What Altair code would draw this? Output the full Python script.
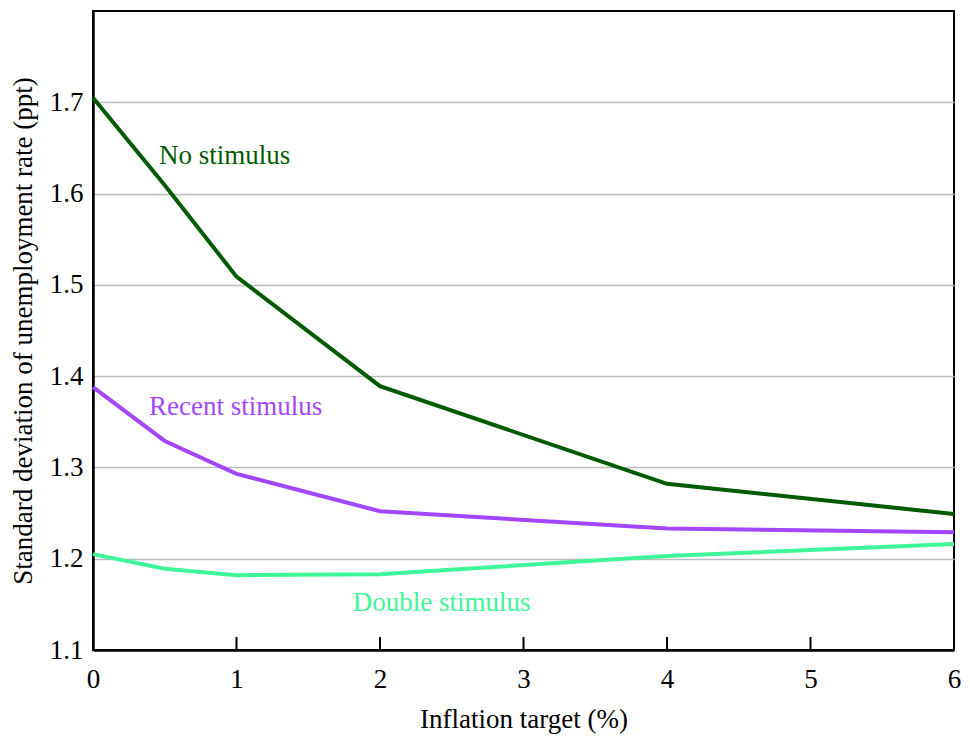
import altair as alt
import pandas as pd

targets = [0, 0.5, 1, 2, 4, 6]
no_stimulus = [1.705, 1.609, 1.509, 1.389, 1.282, 1.249]
recent_stimulus = [1.388, 1.329, 1.293, 1.252, 1.233, 1.229]
double_stimulus = [1.205, 1.189, 1.182, 1.183, 1.203, 1.216]

series_names = ["No stimulus", "Recent stimulus", "Double stimulus"]
series_colors = ["#005a00", "#a347ff", "#3ff59a"]

label_x = [0.46, 0.39, 1.81]
label_y = [1.641, 1.366, 1.152]

x_ticks = [0, 1, 2, 3, 4, 5, 6]
y_ticks = [1.1, 1.2, 1.3, 1.4, 1.5, 1.6, 1.7]

rows = []
for name, vals in zip(series_names, [no_stimulus, recent_stimulus, double_stimulus]):
    for t, v in zip(targets, vals):
        rows.append({"series": name, "target": t, "value": v})
df = pd.DataFrame(rows)
labels_df = pd.DataFrame({"series": series_names, "x": label_x, "y": label_y})
ticks_df = pd.DataFrame({"t": x_ticks})

W, H = 861, 639
FONT = "Liberation Serif, DejaVu Serif, Noto Serif, serif"

color_scale = alt.Scale(domain=series_names, range=series_colors)
x_scale = alt.Scale(domain=[0, 6], nice=False, zero=False)
y_scale = alt.Scale(domain=[1.1, 1.8], nice=False, zero=False)

lines = alt.Chart(df).mark_line(strokeWidth=4).encode(
    x=alt.X("target:Q", scale=x_scale,
            axis=alt.Axis(title="Inflation target (%)", values=x_ticks, grid=False,
                          tickSize=0, labelPadding=16, titlePadding=14, format="d")),
    y=alt.Y("value:Q", scale=y_scale,
            axis=alt.Axis(title="Standard deviation of unemployment rate (ppt)",
                          values=y_ticks, grid=True, tickSize=0, labelPadding=10,
                          titlePadding=12, format=".1f")),
    color=alt.Color("series:N", scale=color_scale, legend=None),
    detail="series:N",
)

ticks = alt.Chart(ticks_df).mark_rule(color="black", strokeWidth=2).encode(
    x=alt.X("t:Q", scale=x_scale),
    y=alt.value(H),
    y2=alt.value(H - 13),
)

texts = alt.Chart(labels_df).mark_text(
    align="left", baseline="middle", font=FONT, fontSize=27
).encode(
    x=alt.X("x:Q", scale=x_scale),
    y=alt.Y("y:Q", scale=y_scale),
    text="series:N",
    color=alt.Color("series:N", scale=color_scale, legend=None),
)

chart = alt.layer(lines, ticks, texts).properties(
    width=W, height=H,
    autosize=alt.AutoSizeParams(type="none"),
    padding={"left": 85, "top": 3, "right": 7, "bottom": 88},
).configure_view(
    stroke="black", strokeWidth=2
).configure_axis(
    labelFont=FONT, titleFont=FONT, labelFontSize=27, titleFontSize=27,
    labelColor="black", titleColor="black", titleFontWeight="normal",
    domainColor="black", domainWidth=2.5, gridColor="#bbbbbb", gridWidth=1.5,
    labelFlush=False,
)

chart.save("out.html", embed_options={"renderer": "svg", "actions": False})
